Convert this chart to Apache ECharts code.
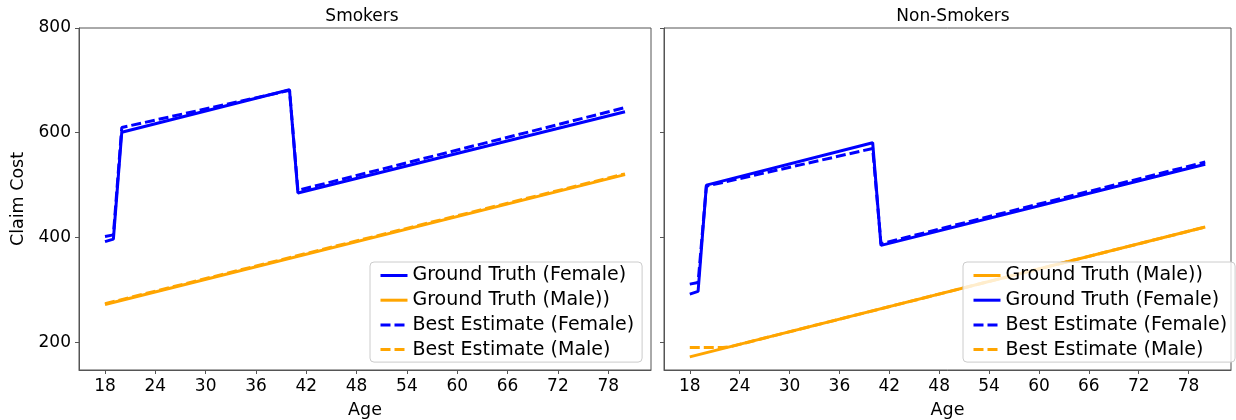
<!DOCTYPE html>
<html>
<head>
<meta charset="utf-8">
<script src="https://cdn.jsdelivr.net/npm/echarts@6/dist/echarts.min.js"></script>
<style>
  html, body { margin: 0; padding: 0; background: #fff; }
  #chart { width: 1236px; height: 420px; }
</style>
</head>
<body>
<div id="chart"></div>
<script>
// Claim cost by age: [age, cost] at each point where a curve bends
const smokerGTFemale = [[18, 392], [19, 397], [20, 601], [40, 682], [41, 485], [80, 640]];
const smokerGTMale   = [[18, 272], [80, 520]];
const smokerBEFemale = [[18, 402], [19, 405], [20, 610], [40, 681], [41, 490], [80, 648]];
const smokerBEMale   = [[18, 273.5], [80, 521.5]];

const nonSmokerGTMale   = [[18, 172], [80, 420]];
const nonSmokerGTFemale = [[18, 292], [19, 297], [20, 500], [40, 581], [41, 385], [80, 540]];
const nonSmokerBEFemale = [[18, 311], [19, 314], [20, 498], [40, 570], [41, 388], [80, 544]];
const nonSmokerBEMale   = [[18, 190], [22, 190], [23, 192], [80, 420]];

const ageTicks  = [18, 24, 30, 36, 42, 48, 54, 60, 66, 72, 78];
const costTicks = [200, 400, 600, 800];

const panelTitles = ['Smokers', 'Non-Smokers'];
const names = {
  gtF: 'Ground Truth (Female)',
  gtM: 'Ground Truth (Male))',
  beF: 'Best Estimate (Female)',
  beM: 'Best Estimate (Male)'
};

const FONT = 'DejaVu Sans';
const BLUE = '#0000ff';
const ORANGE = '#ffa500';
const AXIS = '#555';
const DASH = [10, 4];

// line look of each legend entry
const keyStyle = {};
keyStyle[names.gtF] = { color: BLUE, dashed: false };
keyStyle[names.gtM] = { color: ORANGE, dashed: false };
keyStyle[names.beF] = { color: BLUE, dashed: true };
keyStyle[names.beM] = { color: ORANGE, dashed: true };

function line(name, data, idx) {
  const s = keyStyle[name];
  return {
    type: 'line', name: name, data: data,
    xAxisIndex: idx, yAxisIndex: idx,
    symbol: 'none', animation: false, silent: true,
    lineStyle: { color: s.color, width: 3, type: s.dashed ? DASH : 'solid' },
    itemStyle: { color: s.color }
  };
}

function xAxis(idx) {
  return {
    type: 'value', gridIndex: idx, min: 14.9, max: 83.1,
    name: 'Age', nameLocation: 'middle', nameGap: 31,
    nameTextStyle: { fontFamily: FONT, fontSize: 17.5, color: '#000' },
    axisLine: { show: true, lineStyle: { color: AXIS, width: 1 } },
    axisTick: { show: true, length: 4, lineStyle: { color: AXIS }, customValues: ageTicks },
    axisLabel: { fontFamily: FONT, fontSize: 17, color: '#000', margin: 8, customValues: ageTicks },
    splitLine: { show: false }
  };
}

function yAxis(idx) {
  return {
    type: 'value', gridIndex: idx, min: 147, max: 800,
    name: idx === 0 ? 'Claim Cost' : '', nameLocation: 'middle', nameGap: 52,
    nameTextStyle: { fontFamily: FONT, fontSize: 17.5, color: '#000' },
    axisLine: { show: true, lineStyle: { color: AXIS, width: 1 } },
    axisTick: { show: true, length: 4, lineStyle: { color: AXIS }, customValues: costTicks },
    axisLabel: { show: idx === 0, fontFamily: FONT, fontSize: 17, color: '#000', margin: 8, customValues: costTicks },
    splitLine: { show: false }
  };
}

function legend(left, order) {
  return {
    orient: 'vertical', left: left, top: 262,
    data: order.map(function (n) {
      const s = keyStyle[n];
      return {
        name: n,
        itemStyle: { opacity: 0 },
        lineStyle: { color: s.color, width: 3, type: s.dashed ? DASH : 'solid' }
      };
    }),
    itemWidth: 27, itemHeight: 12, itemGap: 5.7,
    padding: [4, 8, 3, 9],
    backgroundColor: 'rgba(255,255,255,0.8)',
    borderColor: '#ccc', borderWidth: 1, borderRadius: 4,
    textStyle: { fontFamily: FONT, fontSize: 19, color: '#000' },
    selectedMode: false
  };
}

function grid(left, width) {
  return {
    left: left, top: 28, width: width, height: 342,
    outerBoundsMode: 'none', containLabel: false,
    show: true, borderColor: AXIS, borderWidth: 1, backgroundColor: 'transparent'
  };
}

const chart = echarts.init(document.getElementById('chart'), null, { renderer: 'canvas' });
chart.setOption({
  backgroundColor: '#fff',
  animation: false,
  title: [
    { text: panelTitles[0], left: 357, top: 3, textAlign: 'center',
      textStyle: { fontFamily: FONT, fontSize: 17, fontWeight: 'normal', color: '#000' } },
    { text: panelTitles[1], left: 948, top: 3, textAlign: 'center',
      textStyle: { fontFamily: FONT, fontSize: 17, fontWeight: 'normal', color: '#000' } }
  ],
  grid: [grid(79, 572), grid(664, 567)],
  xAxis: [xAxis(0), xAxis(1)],
  yAxis: [yAxis(0), yAxis(1)],
  legend: [
    legend(370, [names.gtF, names.gtM, names.beF, names.beM]),
    legend(963, [names.gtM, names.gtF, names.beF, names.beM])
  ],
  series: [
    line(names.gtF, smokerGTFemale, 0),
    line(names.gtM, smokerGTMale, 0),
    line(names.beF, smokerBEFemale, 0),
    line(names.beM, smokerBEMale, 0),
    line(names.gtM, nonSmokerGTMale, 1),
    line(names.gtF, nonSmokerGTFemale, 1),
    line(names.beF, nonSmokerBEFemale, 1),
    line(names.beM, nonSmokerBEMale, 1)
  ]
});
</script>
</body>
</html>
